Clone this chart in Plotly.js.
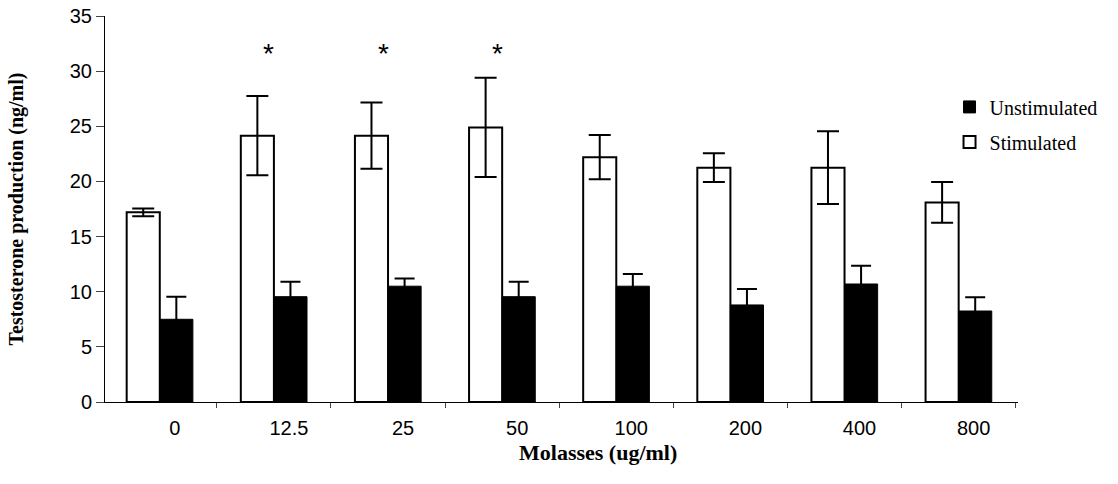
<!DOCTYPE html>
<html>
<head>
<meta charset="utf-8">
<script src="https://cdn.plot.ly/plotly-3.0.1.min.js"></script>
<style>html,body{margin:0;padding:0;background:#fff;}#chart{width:1118px;height:484px;}</style>
</head>
<body>
<div id="chart"></div>
<script>
var categories = ['0', '12.5', '25', '50', '100', '200', '400', '800'];
var stimulated = [17.2, 24.15, 24.15, 24.9, 22.2, 21.25, 21.25, 18.1];
var stimulatedErr = [0.35, 3.6, 3.0, 4.5, 2.0, 1.3, 3.3, 1.85];
var unstimulated = [7.5, 9.55, 10.5, 9.55, 10.5, 8.8, 10.7, 8.25];
var unstimulatedErr = [2.05, 1.35, 0.7, 1.35, 1.1, 1.45, 1.65, 1.25];
var significant = ['12.5', '25', '50'];
var starY = 31.6;

var traces = [
  {
    type: 'bar', name: 'Stimulated', x: categories, y: stimulated,
    legendgroup: 'a', legendrank: 2,
    marker: {color: '#ffffff', line: {color: '#000000', width: 2}},
    error_y: {type: 'data', array: stimulatedErr, visible: true, color: '#000000', thickness: 2, width: 11}
  },
  {
    type: 'bar', name: 'Unstimulated', x: categories, y: unstimulated,
    legendgroup: 'b', legendrank: 1,
    marker: {color: '#000000', line: {color: '#000000', width: 1}},
    error_y: {type: 'data', array: unstimulatedErr, visible: true, color: '#000000', thickness: 2, width: 10}
  }
];

var annotations = significant.map(function (c) {
  return {x: categories.indexOf(c), y: starY, xref: 'x', yref: 'y', text: '*', showarrow: false, xshift: -5,
          font: {family: 'Liberation Sans, Arial, sans-serif', size: 28, color: '#000'}};
});
annotations.push({
  xref: 'paper', yref: 'paper', x: 0.54, y: -0.13, yanchor: 'middle', xanchor: 'center',
  text: '<b>Molasses (ug/ml)</b>', showarrow: false,
  font: {family: 'Liberation Serif, Times New Roman, serif', size: 22, color: '#000'}
});

var layout = {
  width: 1118, height: 484,
  margin: {l: 105, r: 100, t: 16, b: 82},
  paper_bgcolor: '#ffffff', plot_bgcolor: '#ffffff',
  barmode: 'group', bargap: 0.42, bargroupgap: 0,
  showlegend: true,
  legend: {
    x: 0.925, y: 0.815, xanchor: 'left', yanchor: 'top',
    traceorder: 'grouped', tracegroupgap: 6,
    font: {family: 'Liberation Serif, Times New Roman, serif', size: 20, color: '#000'},
    bgcolor: 'rgba(0,0,0,0)'
  },
  xaxis: {
    type: 'category', range: [-0.48, 7.52],
    showline: true, linecolor: '#000', linewidth: 1,
    ticks: 'outside', ticklen: 5, tickcolor: '#444', tickson: 'boundaries',
    ticklabelshift: 15, ticklabelstandoff: 8,
    tickfont: {family: 'Liberation Sans, Arial, sans-serif', size: 20, color: '#000'},
    showgrid: false, zeroline: false, fixedrange: true
  },
  yaxis: {
    range: [0, 35], dtick: 5, tick0: 0,
    showline: true, linecolor: '#000', linewidth: 1,
    ticks: 'outside', ticklen: 8, tickcolor: '#444',
    tickfont: {family: 'Liberation Sans, Arial, sans-serif', size: 20, color: '#000'},
    showgrid: false, zeroline: false,
    title: {text: '<b>Testosterone production (ng/ml)</b>', standoff: 40,
            font: {family: 'Liberation Serif, Times New Roman, serif', size: 20, color: '#000'}}
  },
  annotations: annotations
};

Plotly.newPlot('chart', traces, layout, {displayModeBar: false, staticPlot: true});
</script>
</body>
</html>
